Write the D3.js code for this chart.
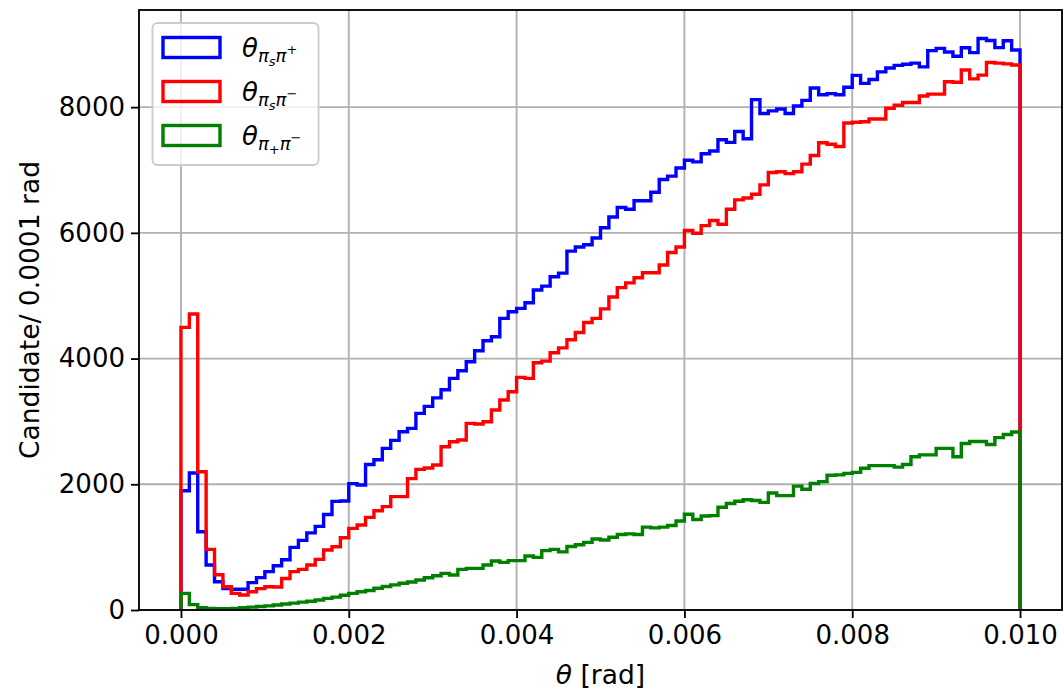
<!DOCTYPE html>
<html>
<head>
<meta charset="utf-8">
<script src="https://cdn.jsdelivr.net/npm/d3@7"></script>
<style>
  html, body { margin: 0; padding: 0; background: #fff; }
  svg { display: block; }
  text { font-family: "DejaVu Sans", sans-serif; fill: #000; }
</style>
</head>
<body>
<svg id="chart" width="1064" height="691"></svg>
<script>
// ---- data (counts per 0.0001 rad bin, 100 bins from 0 to 0.010) ----
const binWidth = 0.0001;
const nBins = 100;

const thetaPsPiPlus = [
  1898, 2179, 1246, 716, 450, 340, 330, 329, 435, 515,
  610, 705, 800, 997, 1108, 1227, 1330, 1519, 1728, 1735,
  2010, 1988, 2314, 2391, 2571, 2698, 2836, 2889, 3128, 3240,
  3375, 3505, 3685, 3807, 3950, 4125, 4284, 4347, 4639, 4745,
  4798, 4888, 5090, 5153, 5302, 5360, 5710, 5774, 5812, 5919,
  6081, 6253, 6403, 6376, 6511, 6511, 6645, 6849, 6903, 7032,
  7156, 7129, 7258, 7302, 7481, 7439, 7612, 7498, 8119, 7898,
  7940, 7970, 7898, 8018, 8107, 8304, 8197, 8215, 8197, 8316,
  8505, 8378, 8439, 8561, 8622, 8664, 8683, 8701, 8640, 8900,
  8935, 8877, 8810, 8944, 8868, 9091, 9060, 8947, 9057, 8910
];

const thetaPsPiMinus = [
  4496, 4708, 2200, 965, 560, 370, 265, 239, 290, 340,
  371, 365, 500, 610, 647, 716, 806, 954, 1007, 1150,
  1299, 1352, 1474, 1580, 1644, 1803, 1803, 2090, 2237, 2260,
  2306, 2598, 2677, 2704, 2969, 2958, 2995, 3181, 3340, 3473,
  3701, 3685, 3934, 3960, 4093, 4170, 4300, 4414, 4575, 4640,
  4790, 4979, 5129, 5204, 5285, 5366, 5366, 5489, 5688, 5774,
  6038, 5995, 6115, 6197, 6137, 6376, 6525, 6555, 6615, 6764,
  6961, 6973, 6943, 6973, 7093, 7230, 7433, 7409, 7373, 7749,
  7760, 7768, 7811, 7811, 7982, 8030, 8073, 8073, 8177, 8207,
  8207, 8405, 8395, 8590, 8450, 8510, 8711, 8700, 8688, 8670
];

const thetaPlusMinus = [
  265, 85, 35, 25, 20, 20, 25, 35, 45, 55,
  65, 80, 95, 110, 125, 140, 160, 185, 205, 235,
  265, 290, 310, 345, 375, 400, 425, 445, 477, 514,
  546, 583, 557, 647, 663, 663, 716, 779, 758, 785,
  785, 859, 838, 944, 965, 925, 1010, 1038, 1076, 1130,
  1114, 1157, 1200, 1211, 1200, 1318, 1307, 1318, 1345, 1415,
  1523, 1440, 1495, 1502, 1634, 1694, 1730, 1754, 1742, 1712,
  1862, 1820, 1820, 1970, 1922, 2012, 2042, 2144, 2150, 2174,
  2190, 2254, 2297, 2297, 2297, 2273, 2315, 2437, 2468, 2468,
  2571, 2571, 2437, 2650, 2681, 2681, 2632, 2742, 2791, 2833
];

const xTicks = [0, 0.002, 0.004, 0.006, 0.008, 0.010];
const xTickLabels = ["0.000", "0.002", "0.004", "0.006", "0.008", "0.010"];
const yTicks = [0, 2000, 4000, 6000, 8000];
const yTickLabels = ["0", "2000", "4000", "6000", "8000"];
const seriesColors = ["#0000ff", "#ff0000", "#008000"];

(function draw() {
  const svg = d3.select("#chart");
  const pL = 139, pR = 1062, pT = 10, pB = 610;
  const allMax = d3.max([...thetaPsPiPlus, ...thetaPsPiMinus, ...thetaPlusMinus]);
  const x = d3.scaleLinear().domain([-0.0005, 0.0105]).range([pL, pR]);
  const y = d3.scaleLinear().domain([0, allMax * 1.05]).range([pB, pT]);

  const gridColor = "#b0b0b0";
  const lw = 1.85;
  const fs = 26;

  // grid
  const grid = svg.append("g");
  xTicks.forEach(t => {
    grid.append("line").attr("x1", x(t)).attr("x2", x(t)).attr("y1", pT).attr("y2", pB)
      .attr("stroke", gridColor).attr("stroke-width", lw);
  });
  yTicks.forEach(t => {
    grid.append("line").attr("x1", pL).attr("x2", pR).attr("y1", y(t)).attr("y2", y(t))
      .attr("stroke", gridColor).attr("stroke-width", lw);
  });

  // step histograms
  const edges = d3.range(nBins + 1).map(i => i * binWidth);
  function stepPoints(vals) {
    const pts = [[edges[0], 0]];
    vals.forEach((v, i) => { pts.push([edges[i], v]); pts.push([edges[i + 1], v]); });
    pts.push([edges[nBins], 0]);
    return pts;
  }
  const line = d3.line().x(d => x(d[0])).y(d => y(d[1]));
  const seriesData = [thetaPsPiPlus, thetaPsPiMinus, thetaPlusMinus];
  seriesData.forEach((vals, i) => {
    svg.append("path").attr("d", line(stepPoints(vals)))
      .attr("fill", "none").attr("stroke", seriesColors[i])
      .attr("stroke-width", 3.4).attr("stroke-linejoin", "miter");
  });

  // axes via d3
  const xAxis = d3.axisBottom(x).tickValues(xTicks).tickFormat((d, i) => xTickLabels[i])
    .tickSizeInner(8).tickSizeOuter(0).tickPadding(8);
  const gx = svg.append("g").attr("transform", `translate(0,${pB})`).call(xAxis);
  const yAxis = d3.axisLeft(y).tickValues(yTicks).tickFormat((d, i) => yTickLabels[i])
    .tickSizeInner(8).tickSizeOuter(0).tickPadding(6);
  const gy = svg.append("g").attr("transform", `translate(${pL},0)`).call(yAxis);
  [gx, gy].forEach(g => {
    g.select(".domain").remove();
    g.selectAll(".tick line").attr("stroke", "#000").attr("stroke-width", lw);
    g.selectAll(".tick text").attr("font-family", "DejaVu Sans").attr("font-size", fs).attr("fill", "#000");
  });

  // spines
  svg.append("rect").attr("x", pL).attr("y", pT).attr("width", pR - pL).attr("height", pB - pT)
    .attr("fill", "none").attr("stroke", "#000").attr("stroke-width", lw);

  // axis labels
  const xl = svg.append("text").attr("x", (pL + pR) / 2).attr("y", 684)
    .attr("text-anchor", "middle").attr("font-size", fs + 0.5);
  xl.append("tspan").attr("font-style", "italic").text("θ");
  xl.append("tspan").text(" [rad]");

  svg.append("text").attr("transform", `translate(39,${(pT + pB) / 2}) rotate(-90)`)
    .attr("text-anchor", "middle").attr("font-size", fs + 0.5).text("Candidate/ 0.0001 rad");

  // legend
  const leg = svg.append("g");
  leg.append("rect").attr("x", 152.5).attr("y", 23).attr("width", 166).attr("height", 142).attr("rx", 5)
    .attr("fill", "#fff").attr("fill-opacity", 0.8).attr("stroke", "#cccccc").attr("stroke-width", lw);

  const legendLabels = [
    [["θ", 26, 0], ["π", 18, 5], ["s", 13, 4], ["π", 18, -4], ["+", 13, -8]],
    [["θ", 26, 0], ["π", 18, 5], ["s", 13, 4], ["π", 18, -4], ["−", 13, -8]],
    [["θ", 26, 0], ["π", 18, 5], ["+", 13, 4], ["π", 18, -4], ["−", 13, -8]]
  ];
  seriesColors.forEach((c, i) => {
    const cy = 47.5 + i * 44;
    leg.append("rect").attr("x", 163).attr("y", cy - 10).attr("width", 57).attr("height", 20)
      .attr("fill", "none").attr("stroke", c).attr("stroke-width", 3.4);
    const t = leg.append("text").attr("x", 242).attr("y", cy + 9);
    legendLabels[i].forEach(([s, f, dy]) => {
      const italic = (s === "θ" || s === "π" || s === "s");
      t.append("tspan").attr("font-size", f).attr("dy", dy)
        .attr("font-style", italic ? "italic" : "normal").text(s);
    });
  });
})();
</script>
</body>
</html>
